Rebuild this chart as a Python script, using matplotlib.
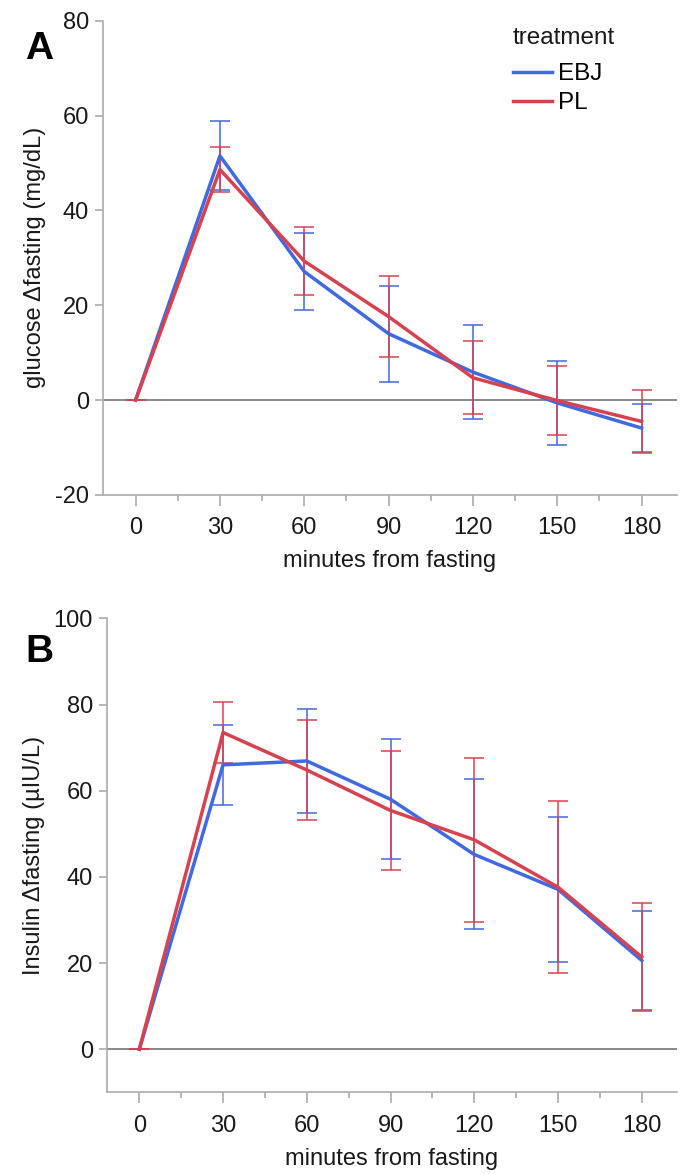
import matplotlib
matplotlib.use("Agg")
import matplotlib.pyplot as plt
from matplotlib.ticker import MultipleLocator

plt.rcParams['font.family'] = ['Liberation Sans', 'DejaVu Sans']
plt.rcParams['axes.unicode_minus'] = False

# time points (minutes from fasting)
minutes = [0, 30, 60, 90, 120, 150, 180]
treatments = ["EBJ", "PL"]

# panel A: glucose change from fasting (mg/dL), mean and error half-width
glucose_ebj = [0, 51.5, 27.1, 14.0, 5.9, -0.6, -5.9]
glucose_ebj_err = [0, 7.3, 8.2, 10.1, 9.9, 8.8, 5.0]
glucose_pl = [0, 48.6, 29.3, 17.6, 4.7, -0.1, -4.5]
glucose_pl_err = [0, 4.7, 7.2, 8.5, 7.7, 7.2, 6.6]

# panel B: insulin change from fasting (uIU/L)
insulin_ebj = [0, 66.0, 66.9, 58.0, 45.2, 37.1, 20.6]
insulin_ebj_err = [0, 9.3, 12.0, 13.9, 17.4, 16.8, 11.5]
insulin_pl = [0, 73.5, 64.8, 55.4, 48.6, 37.6, 21.4]
insulin_pl_err = [0, 7.1, 11.5, 13.9, 19.0, 20.0, 12.5]

BLUE = "#4169E1"
RED = "#D8424F"
SPINE = "#ababab"
TEXT = "#1a1a1a"
FS = 17


def draw_panel(ax, series, errors, ylim, yticks, ylabel):
    """
    Draws one panel with the two treatment lines and their error bars
    """
    colors = [BLUE, RED]

    # reference line at zero
    ax.axhline(0, color="#7f7f7f", lw=1.3, zorder=1)

    # error bars first, then the mean lines on top
    for i in range(len(series)):
        ax.errorbar(minutes, series[i], yerr=errors[i], fmt="none",
                    ecolor=colors[i], elinewidth=1.1, capsize=7.5,
                    capthick=1.1, zorder=2)
    for i in range(len(series)):
        ax.plot(minutes, series[i], color=colors[i], lw=2.5,
                label=treatments[i], zorder=3 + i)

    ax.set_xlim(-11.7, 192.6)
    ax.set_ylim(ylim)
    ax.set_xticks(minutes)
    ax.xaxis.set_minor_locator(MultipleLocator(15))
    ax.set_yticks(yticks)

    # only left and bottom axis, light gray
    for side in ["top", "right"]:
        ax.spines[side].set_visible(False)
    for side in ["left", "bottom"]:
        ax.spines[side].set_color(SPINE)
        ax.spines[side].set_linewidth(1.2)

    ax.tick_params(axis="x", which="major", length=8, width=1.2,
                   color=SPINE, labelsize=FS, pad=8, labelcolor=TEXT)
    ax.tick_params(axis="x", which="minor", length=4.5, width=1.2, color=SPINE)
    ax.tick_params(axis="y", which="major", length=6, width=1.2,
                   color=SPINE, labelsize=FS, pad=4, labelcolor=TEXT)

    ax.set_xlabel("minutes from fasting", fontsize=FS, color=TEXT, labelpad=8)
    ax.set_ylabel(ylabel, fontsize=FS, color=TEXT, labelpad=6)


def main():
    fig = plt.figure(figsize=(6.87, 11.74), dpi=100)

    ax_a = fig.add_axes([0.1495, 0.5784, 0.836, 0.404])
    ax_b = fig.add_axes([0.1553, 0.0696, 0.830, 0.4037])

    draw_panel(ax_a, [glucose_ebj, glucose_pl], [glucose_ebj_err, glucose_pl_err],
               (-20, 80), [-20, 0, 20, 40, 60, 80], "glucose \u0394fasting (mg/dL)")
    draw_panel(ax_b, [insulin_ebj, insulin_pl], [insulin_ebj_err, insulin_pl_err],
               (-10, 100), [0, 20, 40, 60, 80, 100], "Insulin \u0394fasting (\u00b5IU/L)")

    # legend in panel A, title placed on its own for the wider gap
    fig.text(513 / 687, 1 - 38 / 1174, "treatment", fontsize=17.5, color=TEXT,
             ha="left", va="center")
    ax_a.legend(loc="upper left", bbox_to_anchor=(513 / 687, 1 - 63 / 1174),
                bbox_transform=fig.transFigure, frameon=False,
                fontsize=17.5, handlelength=1.6, handletextpad=0.25,
                labelspacing=0.3, borderpad=0, borderaxespad=0)

    # panel letters
    fig.text(25 / 687, 1 - 49 / 1174, "A", fontsize=28, fontweight="bold",
             ha="left", va="center")
    fig.text(25 / 687, 1 - 652 / 1174, "B", fontsize=28, fontweight="bold",
             ha="left", va="center")

    fig.savefig("out.png", dpi=100)


if __name__ == '__main__':
    main()
